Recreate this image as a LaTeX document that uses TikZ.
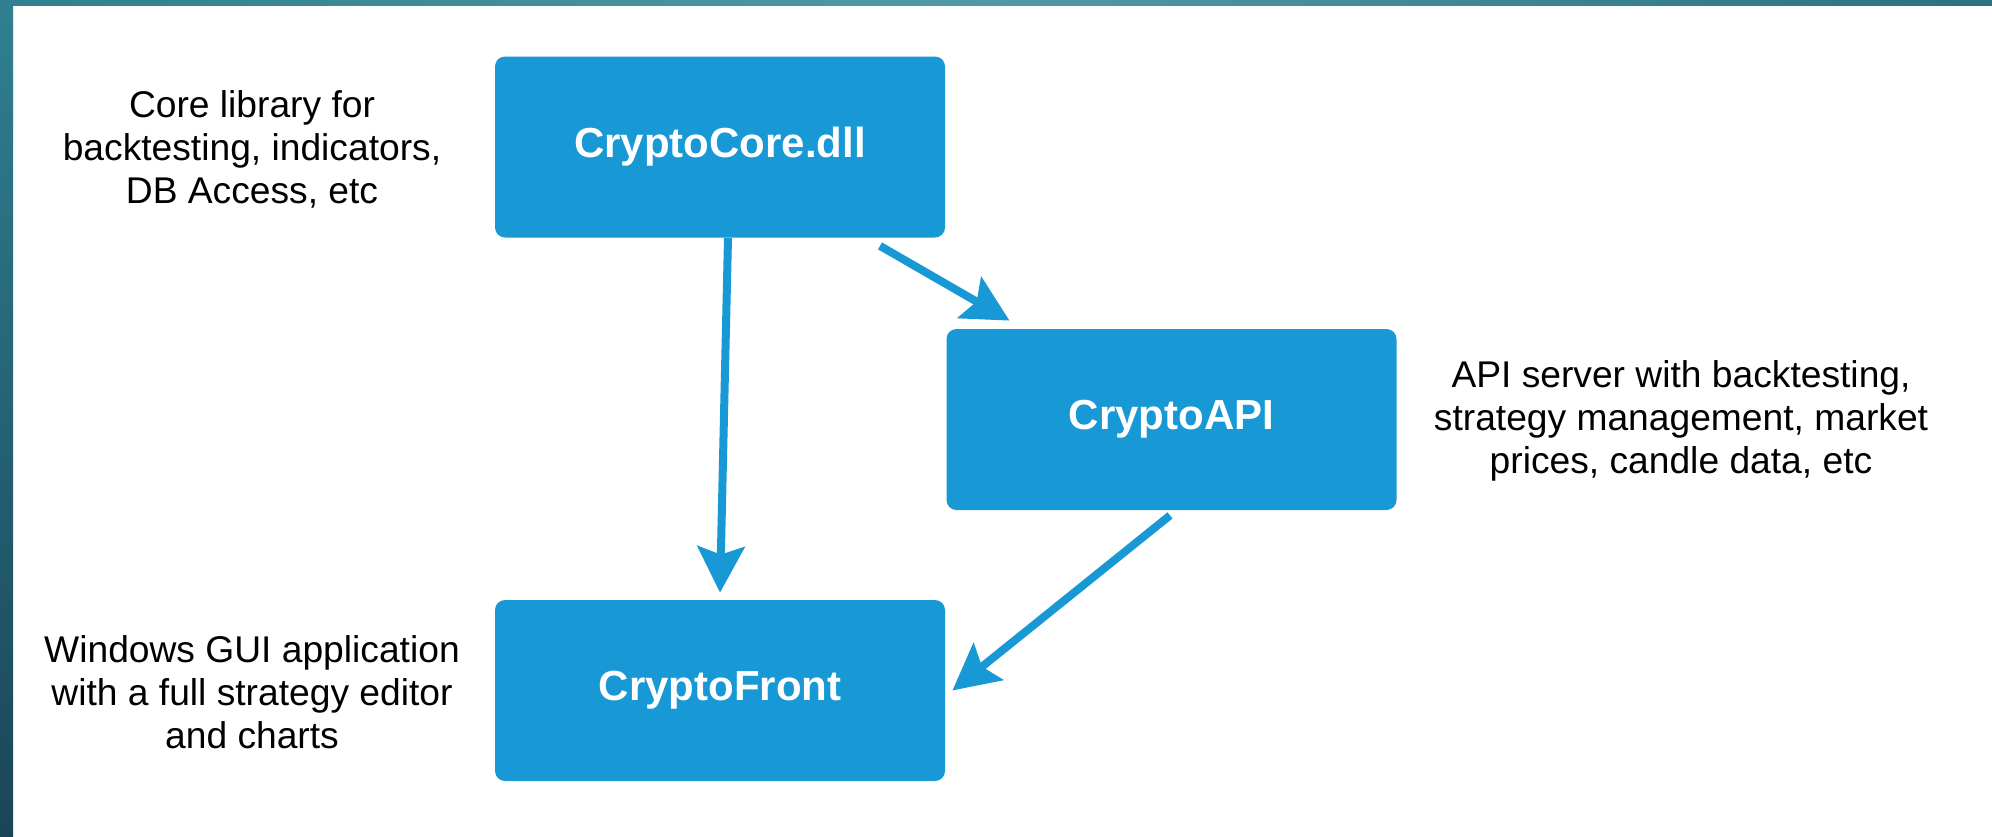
\documentclass[tikz,border=0pt]{standalone}
\usepackage{fontspec}
\setmainfont{Liberation Sans}
\usetikzlibrary{arrows.meta}
\definecolor{boxblue}{HTML}{1899D5}
\definecolor{tealA}{HTML}{2F8090}
\definecolor{tealB}{HTML}{519AA5}
\definecolor{tealC}{HTML}{2A7280}
\definecolor{tealD}{HTML}{1A4558}
\tikzset{
  box/.style={fill=boxblue, draw=none, rounded corners=5pt, minimum width=225pt,
    minimum height=90.5pt, inner sep=0pt, text=white,
    font=\bfseries\fontsize{21}{25}\selectfont},
  note/.style={align=center, inner sep=0pt, text=black,
    font=\fontsize{18.6}{21.5}\selectfont},
  conn/.style={draw=boxblue, line width=4pt,
    -{Stealth[length=23pt, width=23.5pt, inset=4pt]}}
}
\begin{document}
\begin{tikzpicture}[x=0.5pt,y=-0.5pt]
\useasboundingbox (0,0) rectangle (1992,836);
\fill[white] (0,0) rectangle (1992,836);
% frame
\shade[left color=tealA, right color=tealC, middle color=tealB] (0,0) rectangle (1992,5);
\shade[top color=tealA, bottom color=tealD] (0,0) rectangle (13,836);
% boxes
\node[box] (core) at (720,147) {CryptoCore.dll};
\node[box] (api) at (1171.5,419.5) {CryptoAPI};
\node[box] (front) at (720,690.5) {CryptoFront};
% notes
\node[note] (corenote) at (252,149) {Core library for\\backtesting, indicators,\\DB Access, etc};
\node[note] (apinote) at (1681,421) {API server with backtesting,\\strategy management, market\\prices, candle data, etc};
\node[note] (frontnote) at (252,692) {Windows GUI application\\with a full strategy editor\\and charts};
% connectors
\draw[conn] ([xshift=80pt,yshift=-4pt]core.south) -- ([xshift=-81pt,yshift=4pt]api.north);
\draw[conn] ([xshift=4pt]core.south) -- ([yshift=3.5pt]front.north);
\draw[conn] ([xshift=-0.75pt,yshift=-2.5pt]api.south) -- ([xshift=3.5pt]front.east);
\end{tikzpicture}
\end{document}
